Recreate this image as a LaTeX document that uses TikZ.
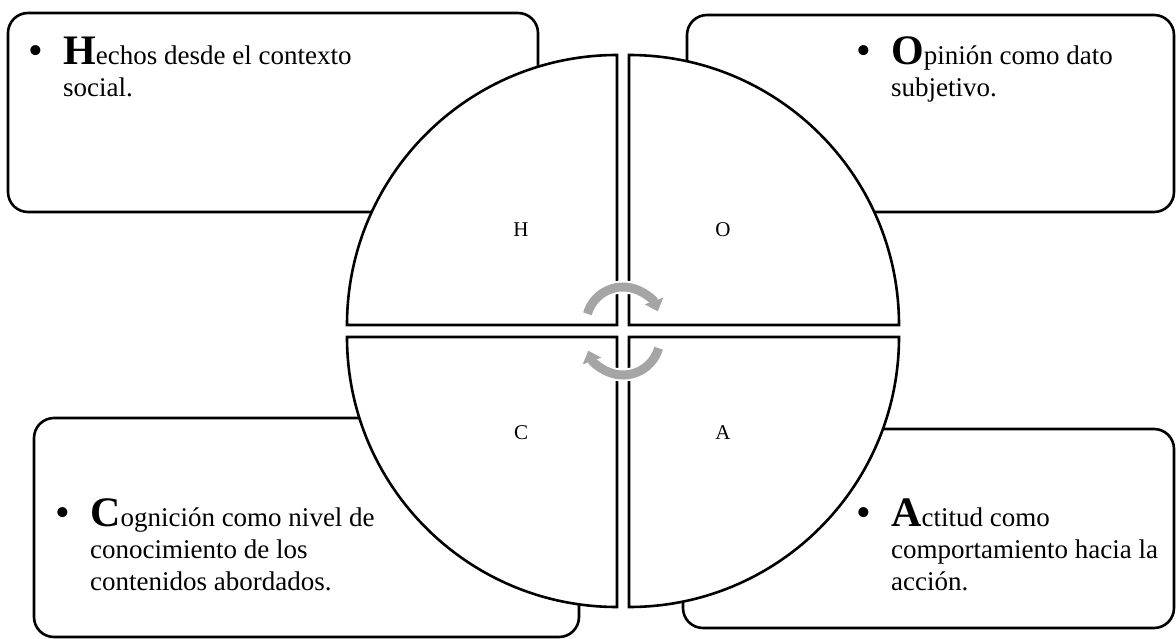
\documentclass[tikz,border=0pt]{standalone}
\usepackage{fontspec}
\setmainfont{Liberation Serif}
\usetikzlibrary{arrows.meta}
\definecolor{arrowgray}{HTML}{A5A5A5}
\newcommand{\bul}{\llap{{\fontsize{42}{42}\selectfont\textbullet}\hspace{20pt}}}
\newcommand{\capL}[1]{{\fontsize{42}{42}\selectfont\bfseries #1}}
\begin{document}
\begin{tikzpicture}[x=1pt,y=-1pt,
  infobox/.style={draw=black,line width=2.6pt,fill=white,rounded corners=20pt,inner sep=0pt,outer sep=0pt},
  quad/.style={draw=black,line width=2.6pt,fill=white,line join=miter},
  btext/.style={anchor=base west,inner sep=0pt,font=\fontsize{27}{32}\selectfont},
  qlabel/.style={font=\fontsize{21}{21}\selectfont,inner sep=0pt},
  cyc/.style={draw=arrowgray,line width=9pt,-{Triangle[width=19pt,length=11pt]}},
  cycback/.style={draw=white,line width=13pt}]
\useasboundingbox (0,0) rectangle (1176,639);
\fill[white] (0,0) rectangle (1176,639);
% boxes
\node[infobox,minimum width=530pt,minimum height=199pt] (boxH) at (273,112.5) {};
\node[infobox,minimum width=487pt,minimum height=197pt] (boxO) at (930.5,113.5) {};
\node[infobox,minimum width=545pt,minimum height=219pt] (boxC) at (306.5,527.5) {};
\node[infobox,minimum width=491pt,minimum height=199pt] (boxA) at (928.5,528.5) {};
% box texts
\node[btext] (tH) at (63,65) {\vtop{\hbox{\bul\capL{H}echos desde el contexto}\hbox{social.}}};
\node[btext] (tO) at (891,65) {\vtop{\hbox{\bul\capL{O}pinión como dato}\hbox{subjetivo.}}};
\node[btext] (tC) at (90,526) {\vtop{\hbox{\bul\capL{C}ognición como nivel de}\hbox{conocimiento de los}\hbox{contenidos abordados.}}};
\node[btext] (tA) at (891,526) {\vtop{\hbox{\bul\capL{A}ctitud como}\hbox{comportamiento hacia la}\hbox{acción.}}};
% quadrants
\path[quad] (617,325) -- (347,325) arc[start angle=180,end angle=270,radius=270] -- cycle;
\path[quad] (629,325) -- (629,55) arc[start angle=270,end angle=360,radius=270] -- cycle;
\path[quad] (629,337) -- (899,337) arc[start angle=0,end angle=90,radius=270] -- cycle;
\path[quad] (617,337) -- (617,607) arc[start angle=90,end angle=180,radius=270] -- cycle;
% quadrant labels
\node[qlabel] (qH) at (521,230) {H};
\node[qlabel] (qO) at (723,230) {O};
\node[qlabel] (qC) at (521,433) {C};
\node[qlabel] (qA) at (723,433) {A};
% cycle arrows
\coordinate (ctop) at (623,324);
\coordinate (cbot) at (623,338);
\draw[cycback] ([shift={(-164:37)}]ctop) arc[start angle=-164,end angle=-30,radius=37];
\draw[cyc] ([shift={(-164:37)}]ctop) arc[start angle=-164,end angle=-20,radius=37];
\draw[cycback] ([shift={(16:37)}]cbot) arc[start angle=16,end angle=150,radius=37];
\draw[cyc] ([shift={(16:37)}]cbot) arc[start angle=16,end angle=160,radius=37];
\end{tikzpicture}
\end{document}
